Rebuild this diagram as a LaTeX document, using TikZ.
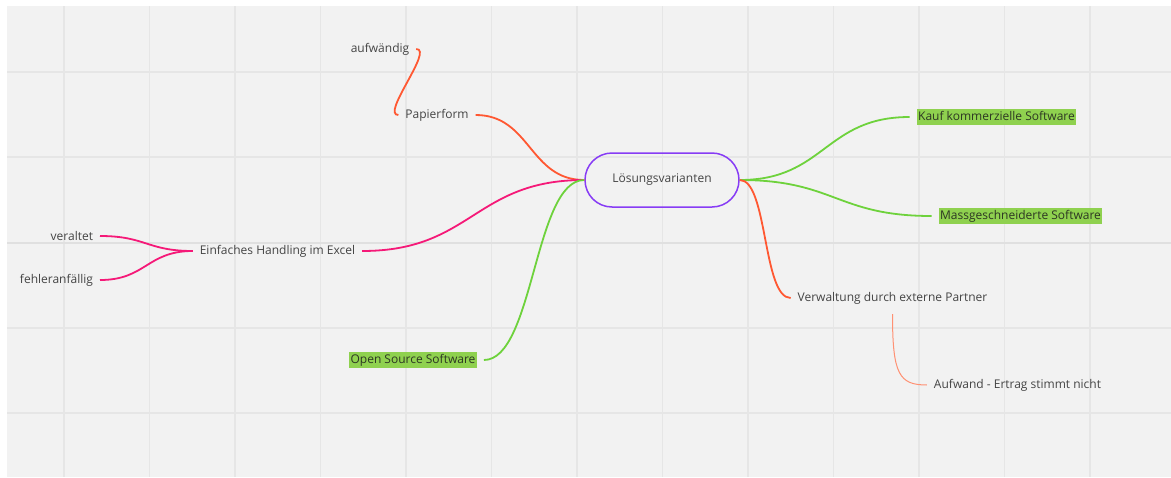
\documentclass[tikz,border=0pt]{standalone}
\usepackage{fontspec}
\setmainfont{Open Sans}
\definecolor{bg}{RGB}{242,242,242}
\definecolor{gridc}{RGB}{230,230,230}
\definecolor{gridd}{RGB}{224,224,224}
\definecolor{purp}{RGB}{135,60,245}
\definecolor{orng}{RGB}{255,88,50}
\definecolor{lorng}{RGB}{255,145,115}
\definecolor{pink}{RGB}{245,25,120}
\definecolor{grn}{RGB}{110,210,60}
\definecolor{hl}{RGB}{143,209,79}
\definecolor{txt}{RGB}{68,68,68}
\definecolor{hltxt}{RGB}{45,55,35}
\begin{document}
\begin{tikzpicture}[x=1pt,y=-1pt,
  lbl/.style={font=\fontsize{12}{14}\selectfont, text=txt, inner xsep=0pt, inner ysep=3pt, outer xsep=7pt},
  hlbox/.style={font=\fontsize{12}{14}\selectfont, text=hltxt, fill=hl, inner xsep=1.5pt, inner ysep=2pt, outer xsep=7pt, text height=9.5pt, text depth=3pt},
  centre/.style={font=\fontsize{12}{14}\selectfont, text=txt, draw=purp, line width=1.5pt, rounded corners=27pt, minimum width=154pt, minimum height=54pt},
  link/.style={line width=1.8pt},
  thin/.style={line width=1pt}]
\useasboundingbox (0,0) rectangle (1171,477);
\fill[white] (0,0) rectangle (1171,477);
\fill[bg] (7,6) rectangle (1171,477);
\foreach \gx in {64,149.5,235,320.5,406,491.5,577,662.5,748,833.5,919,1004.5,1090}
  \draw[gridc, line width=1.5pt] (\gx,6) -- (\gx,477);
\foreach \gy in {72,157,328,413}
  \draw[gridc, line width=1.5pt] (7,\gy) -- (1171,\gy);
\draw[gridd, line width=1.8pt] (7,243) -- (1171,243);

\node[centre] (c) at (662,180) {Lösungsvarianten};
\node[lbl] (pap) at (437,115) {Papierform};
\node[lbl] (auf) at (380,49) {aufwändig};
\node[lbl] (exc) at (277.5,251) {Einfaches Handling im Excel};
\node[lbl, anchor=east] (ver) at (100,236) {veraltet};
\node[lbl, anchor=east] (feh) at (100,280) {fehleranfällig};
\node[hlbox] (oss) at (413,360) {Open Source Software};
\node[hlbox] (kauf) at (996.5,117) {Kauf kommerzielle Software};
\node[hlbox] (mass) at (1020.5,216) {Massgeschneiderte Software};
\node[lbl] (verw) at (892.5,298) {Verwaltung durch externe Partner};
\node[lbl] (aufw) at (1017.5,385) {Aufwand - Ertrag stimmt nicht};

\draw[link, orng] (pap.east) .. controls +(55,0) and +(-55,0) .. (c.west);
\draw[link, orng] (auf.east) .. controls +(18,0) and +(-18,0) .. (pap.west);
\draw[link, pink] (exc.east) .. controls +(110,0) and +(-110,0) .. (c.west);
\draw[link, pink] (ver.east) .. controls +(46,0) and +(-46,0) .. (exc.west);
\draw[link, pink] (feh.east) .. controls +(46,0) and +(-46,0) .. (exc.west);
\draw[link, grn] (oss.east) .. controls +(50,0) and +(-50,0) .. (c.west);
\draw[link, grn] (c.east) .. controls +(85,0) and +(-85,0) .. (kauf.west);
\draw[link, grn] (c.east) .. controls +(95,0) and +(-95,0) .. (mass.west);
\draw[link, orng] (c.east) .. controls +(28,0) and +(-28,0) .. (verw.west);
\draw[thin, lorng] ([yshift=-7pt]verw.south) .. controls +(0,60) and +(-28,0) .. (aufw.west);
\end{tikzpicture}
\end{document}
